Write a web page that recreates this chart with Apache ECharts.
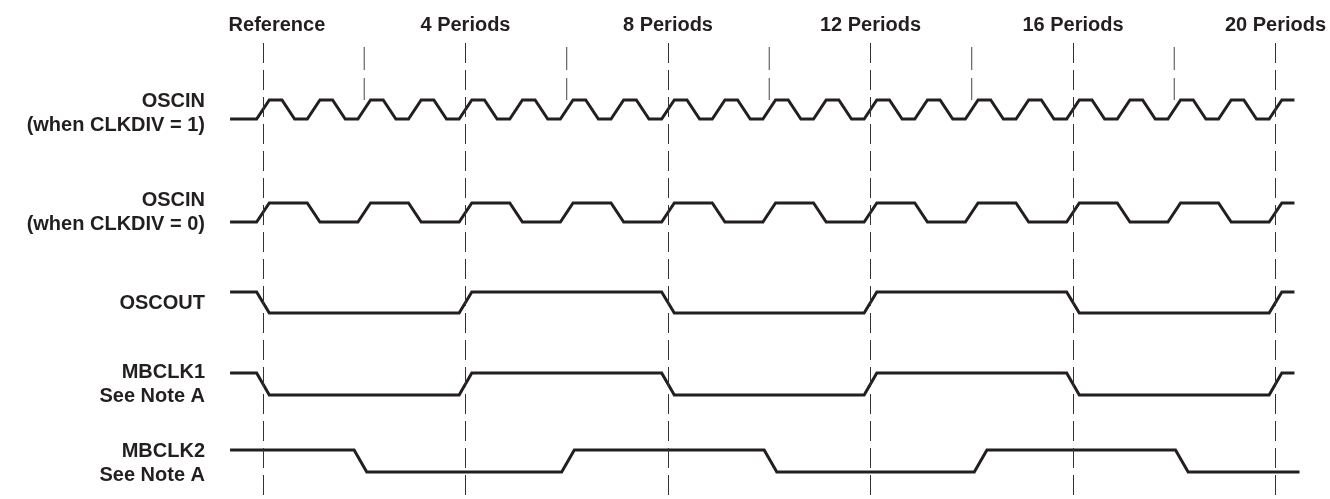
<!DOCTYPE html>
<html lang="en">
<head>
    <meta charset="UTF-8">
    <title>OSCIN timing</title>
    <script src="https://cdn.jsdelivr.net/npm/echarts@6.0.0/dist/echarts.min.js" type="text/javascript"></script>
    <style>
        html, body { margin: 0; padding: 0; background: #fff; }
    </style>
</head>
<body>
<div id="main" style="width: 1330px; height: 499px;"></div>
<script>
    // time unit = 1/4 of an OSCIN period (CLKDIV = 1)
    var periodTimes = [0, 16, 32, 48, 64, 80];
    var periodLabels = ['Reference', '4 Periods', '8 Periods', '12 Periods', '16 Periods', '20 Periods'];
    var midTimes = [8, 24, 40, 56, 72];

    var signalNames = ['OSCIN\n(when CLKDIV = 1)', 'OSCIN\n(when CLKDIV = 0)', 'OSCOUT', 'MBCLK1\nSee Note A', 'MBCLK2\nSee Note A'];
    var startLevels = [0, 0, 1, 1, 1];
    var traceStart = [-2.6, -2.6, -2.6, -2.6, -2.6];
    var traceEnd = [81.5, 81.5, 81.5, 81.5, 81.9];

    // edge centres (time units)
    var oscin1Edges = [0, 2, 4, 6, 8, 10, 12, 14, 16, 18, 20, 22, 24, 26, 28, 30, 32, 34, 36, 38, 40,
        42, 44, 46, 48, 50, 52, 54, 56, 58, 60, 62, 64, 66, 68, 70, 72, 74, 76, 78, 80];
    var oscin0Edges = [0, 4, 8, 12, 16, 20, 24, 28, 32, 36, 40, 44, 48, 52, 56, 60, 64, 68, 72, 76, 80];
    var oscoutEdges = [0, 16, 32, 48, 64, 80];
    var mbclk1Edges = [0, 16, 32, 48, 64, 80];
    var mbclk2Edges = [7.7, 24.1, 40.1, 56.7, 72.6];

    // layout: row high / low positions and label centres (pixel rows of the y scale)
    var rowHigh = [100, 203, 292, 373, 450];
    var rowLow = [119, 222, 313, 395, 472];
    var labelRows = [113.5, 212.5, 303, 384.5, 463];
    var slew = 1;
    var ink = '#231f20';
    var font = '"Liberation Sans", Arial, Helvetica, sans-serif';

    function wave(i, edges) {
        var lvl = startLevels[i];
        var y = function (l) { return l ? rowHigh[i] : rowLow[i]; };
        var pts = [[traceStart[i], y(lvl)]];
        edges.forEach(function (e) {
            pts.push([e - slew / 2, y(lvl)]);
            lvl = 1 - lvl;
            pts.push([e + slew / 2, y(lvl)]);
        });
        pts.push([traceEnd[i], y(lvl)]);
        return pts;
    }

    var allEdges = [oscin1Edges, oscin0Edges, oscoutEdges, mbclk1Edges, mbclk2Edges];
    var series = allEdges.map(function (edges, i) {
        return {
            type: 'line',
            data: wave(i, edges),
            symbol: 'none',
            silent: true,
            lineStyle: { color: ink, width: 3, join: 'miter' },
            z: 3
        };
    });

    // dashed period markers across the whole diagram
    series.push({
        type: 'line',
        data: [],
        silent: true,
        markLine: {
            silent: true,
            symbol: 'none',
            label: { show: false },
            lineStyle: { color: '#333', width: 1, type: [20, 7] },
            data: periodTimes.map(function (t) { return { xAxis: t }; })
        }
    });

    // short markers between periods, above OSCIN
    midTimes.forEach(function (t) {
        series.push({
            type: 'line',
            data: [[t, 47], [t, rowHigh[0]]],
            symbol: 'none',
            silent: true,
            lineStyle: { color: '#444', width: 1, type: [23, 8] }
        });
    });

    var myChart = echarts.init(document.getElementById('main'));
    var option = {
        animation: false,
        grid: { left: 225, right: 29.2, top: 43, bottom: 0, outerBoundsMode: 'none' },
        xAxis: {
            type: 'value',
            position: 'top',
            min: -3,
            max: 82,
            axisLine: { show: false },
            axisTick: { show: false },
            splitLine: { show: false },
            axisLabel: {
                customValues: periodTimes,
                margin: 18,
                verticalAlign: 'middle',
                color: ink,
                fontFamily: font,
                fontWeight: 'bold',
                fontSize: 20,
                formatter: function (v) {
                    var s = periodLabels[periodTimes.indexOf(v)];
                    return v === 0 ? '{ref|' + s + '}' : s;
                },
                rich: {
                    ref: { padding: [0, 0, 0, 28], fontFamily: font, fontWeight: 'bold', fontSize: 20, color: ink }
                }
            }
        },
        yAxis: {
            type: 'value',
            inverse: true,
            min: 43,
            max: 499,
            axisLine: { show: false },
            axisTick: { show: false },
            splitLine: { show: false },
            axisLabel: {
                customValues: labelRows,
                margin: 20,
                align: 'right',
                color: ink,
                fontFamily: font,
                fontWeight: 'bold',
                fontSize: 20,
                lineHeight: 24,
                formatter: function (v) {
                    return signalNames[labelRows.indexOf(v)];
                }
            }
        },
        series: series
    };
    myChart.setOption(option);
</script>
</body>
</html>
